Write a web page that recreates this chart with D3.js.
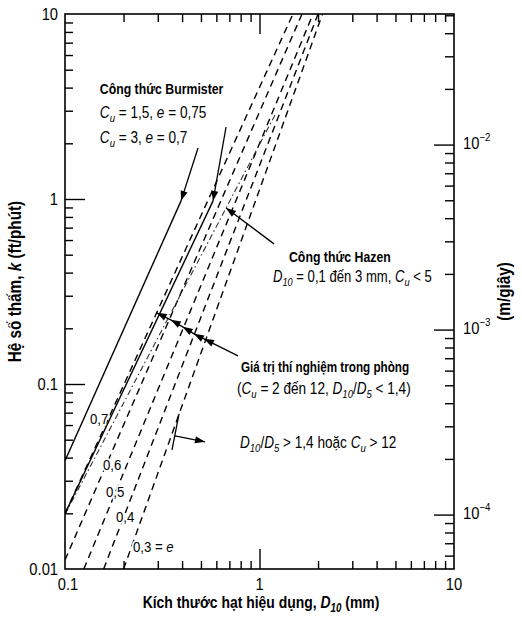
<!DOCTYPE html>
<html><head><meta charset="utf-8">
<script src="https://cdn.jsdelivr.net/npm/d3@7"></script>
<style>html,body{margin:0;padding:0;background:#fff} svg{display:block;font-family:"Liberation Sans",Arial,sans-serif}</style>
</head><body>
<svg id="chart" width="522" height="618"></svg>
<script>
// ---------------- data ----------------
const xTickValues = [0.1, 1, 10];
const xTickLabels = ["0.1", "1", "10"];
const yTickValues = [0.01, 0.1, 1, 10];
const yTickLabels = ["0.01", "0.1", "1", "10"];
const rightTickValues = [1e-4, 1e-3, 1e-2];
const rightTickExponents = ["\u22124", "\u22123", "\u22122"];
const ftPerMinToMPerS = 0.00508;

// laboratory lines for void ratio e (D10 mm, k ft/min)
const voidRatioLabels = ["0,7", "0,6", "0,5", "0,4", "0,3 = e"];
const labLineD10 = [[0.1, 1.486], [0.1, 1.654], [0.125, 1.884], [0.158, 2.0], [0.2, 2.108]];
const labLineK = [[0.0199, 10], [0.0112, 10], [0.01, 10], [0.01, 10], [0.01, 10]];
const voidLabelD10 = [0.1344, 0.1568, 0.1625, 0.1829, 0.2237];
const voidLabelK = [0.0610, 0.0344, 0.02459, 0.0180, 0.0124];

// Burmister lines (Cu=1.5,e=0.75 ; Cu=3,e=0.7)
const burmisterD10 = [[0.1, 0.577], [0.1, 0.395]];
const burmisterK = [[0.0199, 0.977], [0.0385, 0.977]];

// Hazen line
const hazenD10 = [0.1, 1.2];
const hazenK = [0.0197, 2.84];

// annotation leaders (from, to) in data units
const burmisterLeaderFrom = [[0.673, 2.45], [0.483, 1.888]];
const burmisterLeaderTo = [[0.577, 0.977], [0.395, 0.977]];
const hazenLeader = [[1.187, 0.572], [0.673, 0.895]];
const labLeaderStart = [0.775, 0.142];
const labArrowD10 = [0.5184, 0.4605, 0.4028, 0.3496, 0.296];
const labArrowK = [0.1754, 0.1867, 0.2037, 0.2222, 0.2425];
const ratioBar = [[0.3857, 0.069], [0.355, 0.0441]];
const ratioArrow = [[0.3677, 0.0525], [0.5245, 0.0487]];

// ---------------- layout ----------------
const W = 522, H = 618;
const L = 65, R = 454, T = 14, B = 569;
const svg = d3.select("#chart");
const x = d3.scaleLog().domain([0.1, 10]).range([L, R]);
const y = d3.scaleLog().domain([0.01, 10]).range([B, T]);
const yR = d3.scaleLog().domain([0.01 * ftPerMinToMPerS, 10 * ftPerMinToMPerS]).range([B, T]);

const defs = svg.append("defs");
defs.append("clipPath").attr("id", "plotclip").append("rect")
  .attr("x", L).attr("y", T).attr("width", R - L).attr("height", B - T);
defs.append("marker").attr("id", "ah").attr("viewBox", "-11 -5 12 10")
  .attr("refX", 0).attr("refY", 0).attr("markerWidth", 12).attr("markerHeight", 10)
  .attr("markerUnits", "userSpaceOnUse").attr("orient", "auto")
  .append("path").attr("d", "M0,0L-10,-3.6L-10,3.6Z").attr("fill", "#000");

function richText(parent, px, py, parts, o) {
  const t = parent.append("text")
    .attr("transform", `translate(${px},${py})${o.rotate ? ` rotate(${o.rotate})` : ""} scale(${o.sx || 1},1)`)
    .attr("font-size", o.size).attr("font-weight", o.bold ? "bold" : "normal")
    .attr("text-anchor", o.anchor || "start").attr("fill", "#000");
  if (o.halo) t.attr("stroke", "#fff").attr("stroke-width", 4).attr("paint-order", "stroke").attr("stroke-linejoin", "round");
  let off = 0;
  parts.forEach(p => {
    const s = t.append("tspan").text(p.t);
    if (p.i) s.attr("font-style", "italic");
    let target = 0;
    if (p.sub) { s.attr("font-size", o.size * 0.7); target = o.size * 0.25; }
    if (p.sup) { s.attr("font-size", o.size * 0.66); target = -o.size * 0.45; }
    if (target - off !== 0) s.attr("dy", target - off);
    off = target;
  });
  return t;
}
const Cu = [{ t: "C", i: 1 }, { t: "u", i: 1, sub: 1 }];
const D10 = [{ t: "D", i: 1 }, { t: "10", i: 1, sub: 1 }];
const D5 = [{ t: "D", i: 1 }, { t: "5", i: 1, sub: 1 }];

// ---------------- axes (ticks) ----------------
const isDecade = v => Math.abs(Math.log10(v) - Math.round(Math.log10(v))) < 1e-6;
const yAll = y.ticks(), xAll = x.ticks(), yRAll = yR.ticks();
const yMinor = yAll.filter(v => !isDecade(v));
const xMinor = xAll.filter(v => !isDecade(v));
const yRMinor = yRAll.filter(v => !isDecade(v));

function styleAxis(g) {
  g.select(".domain").remove();
  g.selectAll("text").remove();
  g.selectAll("line").attr("stroke", "#000").attr("stroke-width", 1.4);
}
svg.append("g").attr("transform", `translate(${L},0)`)
  .call(d3.axisLeft(y).tickValues(yMinor).tickSize(-8).tickFormat("")).call(styleAxis);
svg.append("g").attr("transform", `translate(${L},0)`)
  .call(d3.axisLeft(y).tickValues([0.1, 1]).tickSize(-20).tickFormat("")).call(styleAxis);
svg.append("g").attr("transform", `translate(0,${B})`)
  .call(d3.axisBottom(x).tickValues(xMinor).tickSize(-8).tickFormat("")).call(styleAxis);
svg.append("g").attr("transform", `translate(0,${B})`)
  .call(d3.axisBottom(x).tickValues([1]).tickSize(-20).tickFormat("")).call(styleAxis);
svg.append("g").attr("transform", `translate(0,${T})`)
  .call(d3.axisTop(x).tickValues(xMinor).tickSize(-8).tickFormat("")).call(styleAxis);
svg.append("g").attr("transform", `translate(0,${T})`)
  .call(d3.axisTop(x).tickValues([1]).tickSize(-20).tickFormat("")).call(styleAxis);
svg.append("g").attr("transform", `translate(${R},0)`)
  .call(d3.axisRight(yR).tickValues(yRMinor).tickSize(-9).tickFormat("")).call(styleAxis);
svg.append("g").attr("transform", `translate(${R},0)`)
  .call(d3.axisRight(yR).tickValues(rightTickValues).tickSize(-20).tickFormat("")).call(styleAxis);

// frame
svg.append("rect").attr("x", L).attr("y", T).attr("width", R - L).attr("height", B - T)
  .attr("fill", "none").attr("stroke", "#000").attr("stroke-width", 1.6);

// tick labels
yTickValues.forEach((v, i) => richText(svg, L - 7, y(v) + 6, [{ t: yTickLabels[i] }], { size: 16, anchor: "end", sx: 0.92 }));
xTickValues.forEach((v, i) => richText(svg, x(v) + (i === 0 ? 3 : 0), B + 21, [{ t: xTickLabels[i] }], { size: 16, anchor: "middle", sx: 0.92 }));
rightTickValues.forEach((v, i) => richText(svg, R + 9, yR(v) + 4,
  [{ t: "10" }, { t: rightTickExponents[i], sup: 1 }], { size: 16, sx: 0.92 }));

// axis titles
richText(svg, 21, (T + B) / 2 - 10, [{ t: "Hệ số thấm, " }, { t: "k", i: 1 }, { t: " (ft/phút)" }],
  { size: 18, bold: 1, rotate: -90, anchor: "middle", sx: 0.85 });
richText(svg, 261, 608, [{ t: "Kích thước hạt hiệu dụng, " }, ...D10, { t: " (mm)" }],
  { size: 17, bold: 1, anchor: "middle", sx: 0.82 });
richText(svg, 510, (T + B) / 2, [{ t: "(m/giây)" }], { size: 18, bold: 1, rotate: -90, anchor: "middle", sx: 0.85 });

// ---------------- lines ----------------
const plot = svg.append("g").attr("clip-path", "url(#plotclip)");
const line = d3.line().x(d => x(d[0])).y(d => y(d[1]));
labLineD10.forEach((dv, i) => {
  plot.append("path").attr("d", line(d3.zip(dv, labLineK[i])))
    .attr("fill", "none").attr("stroke", "#000").attr("stroke-width", 1.4).attr("stroke-dasharray", "7 5");
});
plot.append("path").attr("d", line(d3.zip(hazenD10, hazenK)))
  .attr("fill", "none").attr("stroke", "#333").attr("stroke-width", 1.1).attr("stroke-dasharray", "6 3 1.5 3");
burmisterD10.forEach((dv, i) => {
  plot.append("path").attr("d", line(d3.zip(dv, burmisterK[i])))
    .attr("fill", "none").attr("stroke", "#000").attr("stroke-width", 1.4);
});

// ---------------- annotations ----------------
const ann = svg.append("g");
function arrow(pts) {
  ann.append("path").attr("d", line(pts)).attr("fill", "none").attr("stroke", "#000")
    .attr("stroke-width", 1.3).attr("marker-end", "url(#ah)").attr("marker-mid", "url(#ah)");
}
burmisterLeaderFrom.forEach((f, i) => {
  ann.append("path").attr("d", line([f, burmisterLeaderTo[i]])).attr("fill", "none")
    .attr("stroke", "#000").attr("stroke-width", 1.3).attr("marker-end", "url(#ah)");
});
ann.append("path").attr("d", line(hazenLeader)).attr("fill", "none")
  .attr("stroke", "#000").attr("stroke-width", 1.3).attr("marker-end", "url(#ah)");
arrow([labLeaderStart, ...d3.zip(labArrowD10, labArrowK)]);
ann.append("path").attr("d", line(ratioBar)).attr("fill", "none").attr("stroke", "#000").attr("stroke-width", 1.3);
ann.append("path").attr("d", line(ratioArrow)).attr("fill", "none")
  .attr("stroke", "#000").attr("stroke-width", 1.3).attr("marker-end", "url(#ah)");

// void ratio labels
voidRatioLabels.forEach((lab, i) => {
  const parts = lab.endsWith("e") ? [{ t: lab.slice(0, -1) }, { t: "e", i: 1 }] : [{ t: lab }];
  richText(ann, x(voidLabelD10[i]), y(voidLabelK[i]), parts, { size: 15, sx: 0.88, halo: 1 });
});

// text blocks
richText(ann, x(0.151), y(3.70), [{ t: "Công thức Burmister" }], { size: 15, bold: 1, sx: 0.82 });
richText(ann, x(0.151), y(2.74), [...Cu, { t: " = 1,5, " }, { t: "e", i: 1 }, { t: " = 0,75" }], { size: 16, sx: 0.85 });
richText(ann, x(0.151), y(2.01), [...Cu, { t: " = 3, " }, { t: "e", i: 1 }, { t: " = 0,7" }], { size: 16, sx: 0.85 });
richText(ann, x(1.418), y(0.457), [{ t: "Công thức Hazen" }], { size: 15, bold: 1, sx: 0.82 });
richText(ann, x(1.173), y(0.3565), [...D10, { t: " = 0,1 đến 3 mm, " }, ...Cu, { t: " < 5" }], { size: 16, sx: 0.82 });
richText(ann, x(0.803), y(0.1164), [{ t: "Giá trị thí nghiệm trong phòng" }], { size: 15, bold: 1, sx: 0.78 });
richText(ann, x(0.766), y(0.0885), [{ t: "(" }, ...Cu, { t: " = 2 đến 12, " }, ...D10, { t: "/" }, ...D5, { t: "  < 1,4)" }], { size: 16, sx: 0.85 });
richText(ann, x(0.794), y(0.0452), [...D10, { t: "/" }, ...D5, { t: " > 1,4 hoặc " }, ...Cu, { t: " > 12" }], { size: 16, sx: 0.85 });
</script>
</body></html>
